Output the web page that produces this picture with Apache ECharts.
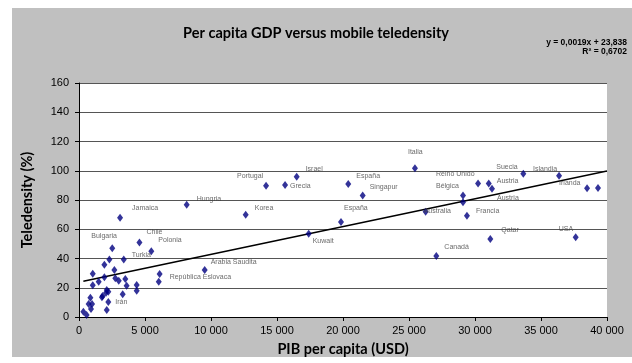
<!DOCTYPE html>
<html>
<head>
<meta charset="utf-8">
<script src="https://cdn.jsdelivr.net/npm/echarts@6/dist/echarts.min.js"></script>
<style>
  html, body { margin: 0; padding: 0; background: #ffffff; }
  #chart { width: 632px; height: 363px; }
</style>
</head>
<body>
<div id="chart"></div>
<script>
// GDP per capita (USD) and mobile teledensity (%) per country
const gdp = [
  25450, 14170, 8160, 3110, 12630, 2520, 4580, 5480, 3390, 9520,
  6110, 6040, 2220, 16490, 15610, 20400, 21490, 19850, 17400, 33660,
  36370, 30230, 31040, 31290, 29090, 29090, 38490, 39320, 26260, 29390,
  31160, 37630, 27070,
  2300, 1920, 1040, 2680, 1490, 1920, 1040, 2750, 3010, 3510,
  3610, 4370, 4370, 2100, 2220, 2050, 1790, 1740, 3310, 860,
  730, 990, 910, 2100, 330, 580
];
const teledensity = [
  101.7, 89.8, 76.8, 67.9, 70.0, 47.0, 51.0, 44.9, 39.4, 32.1,
  29.4, 24.1, 10.3, 95.9, 90.3, 91.0, 83.0, 65.0, 57.0, 98.0,
  96.6, 91.2, 91.2, 87.7, 83.0, 78.4, 88.0, 88.2, 72.0, 69.3,
  53.3, 54.5, 41.7,
  39.4, 35.8, 29.6, 32.1, 24.1, 27.1, 21.7, 26.5, 24.8, 26.0,
  21.4, 21.9, 18.0, 18.5, 17.3, 16.6, 14.4, 13.5, 15.5, 13.2,
  8.9, 8.9, 5.5, 4.8, 3.6, 1.4
];
const countries = [
  'Italia', 'Portugal', 'Hungria', 'Jamaica', 'Korea', 'Bulgaria', 'Chile', 'Polonia', 'Turkia', 'Arabia Saudita',
  'República Eslovaca', '', 'Irán', 'Israel', 'Grecia', 'España', 'Singapur', 'España', 'Kuwait', 'Suecia',
  'Islandia', 'Reino Unido', 'Austria', 'Austria', 'Bélgica', '', 'Irlanda', '', 'Australia', 'Francia',
  'Qatar', 'USA', 'Canadá'
];
const xTicks = [0, 5000, 10000, 15000, 20000, 25000, 30000, 35000, 40000];
const yTicks = [0, 20, 40, 60, 80, 100, 120, 140, 160];

// Linear trend reported on the chart
const trendSlope = 0.0019;
const trendIntercept = 23.838;
const trendLines = ['y = 0,0019x + 23,838', 'R² = 0,6702'];

// Label placement (pixel offset of the text's left/middle from the marker centre)
const labelOffsets = {
  0: [-7, -16], 1: [-29, -10], 2: [10, -6], 3: [12, -10], 4: [9, -7],
  5: [-21, -12], 6: [7, -10], 7: [7, -11], 8: [8, -4], 9: [6, -8],
  10: [10, 3], 12: [7, 0], 13: [9, -8], 14: [5, 1], 15: [8, -8],
  16: [7, -9], 17: [3, -14], 18: [4, 7], 19: [-27, -7], 20: [-26, -7],
  21: [-42, -10], 22: [8, -3], 23: [5, 9], 24: [-27, -10], 26: [-28, -5],
  28: [-2, -1], 29: [9, -5], 30: [11, -9], 31: [-17, -8], 32: [8, -9]
};

const points = gdp.map((x, i) => {
  const name = countries[i] || '';
  const p = { value: [x, teledensity[i]], name: name };
  if (name) {
    p.label = { show: true, formatter: name, offset: labelOffsets[i] || [6, -8] };
  }
  return p;
});

const xMin = Math.min.apply(null, gdp);
const xMax = xTicks[xTicks.length - 1];
const trend = [
  [xMin, trendSlope * xMin + trendIntercept],
  [xMax, trendSlope * xMax + trendIntercept]
];

const fmtThousands = v => String(v).replace(/\B(?=(\d{3})+(?!\d))/g, ' ');
const headFont = { fontFamily: 'Lato', fontWeight: 'bold', fontSize: 14.5, color: '#000' };

const chart = echarts.init(document.getElementById('chart'), null, { renderer: 'canvas' });
chart.setOption({
  backgroundColor: 'transparent',
  animation: false,
  title: [{
    text: 'Per capita GDP versus mobile teledensity',
    left: 'center', top: 21,
    textStyle: headFont
  }],
  grid: { left: 79, top: 83, width: 528, height: 234 },
  xAxis: {
    type: 'value', min: xTicks[0], max: xMax, interval: xTicks[1] - xTicks[0],
    name: 'PIB per capita (USD)', nameLocation: 'middle', nameGap: 25,
    nameTextStyle: headFont,
    axisLine: { show: true, onZero: false, lineStyle: { color: '#000', width: 1 } },
    axisTick: { show: true, inside: false, length: 4, lineStyle: { color: '#000' } },
    axisLabel: { margin: 8, fontFamily: 'Liberation Sans', fontSize: 11, color: '#000', formatter: fmtThousands },
    splitLine: { show: false }
  },
  yAxis: {
    type: 'value', min: yTicks[0], max: yTicks[yTicks.length - 1], interval: yTicks[1] - yTicks[0],
    name: 'Teledensity (%)', nameLocation: 'middle', nameGap: 44, nameRotate: 90,
    nameTextStyle: headFont,
    axisLine: { show: true, onZero: false, lineStyle: { color: '#000', width: 1 } },
    axisTick: { show: true, inside: false, length: 4, lineStyle: { color: '#000' } },
    axisLabel: { margin: 10, fontFamily: 'Liberation Sans', fontSize: 11, color: '#000' },
    splitLine: { show: true, lineStyle: { color: '#555', width: 1 } }
  },
  series: [{
    type: 'scatter',
    data: points,
    symbol: 'diamond',
    symbolSize: [6, 8],
    itemStyle: { color: '#000080' },
    label: {
      show: false, position: 'inside', align: 'left', verticalAlign: 'middle',
      fontFamily: 'Liberation Sans', fontSize: 7, color: '#444'
    },
    z: 3
  }, {
    type: 'line',
    data: trend,
    symbol: 'none',
    lineStyle: { color: '#000', width: 1.5 },
    silent: true,
    z: 2
  }]
});

// Chart-area fill, white plot background and the trend equation
const gridRect = chart.getModel().getComponent('grid').coordinateSystem.getRect();
chart.setOption({
  graphic: [{
    type: 'rect', z: -10, silent: true,
    shape: { x: 12, y: 8, width: 620, height: 349 },
    style: { fill: '#c0c0c0' }
  }, {
    type: 'rect', z: -9, silent: true,
    shape: { x: gridRect.x, y: gridRect.y, width: gridRect.width, height: gridRect.height },
    style: { fill: '#ffffff' }
  }].concat(trendLines.map((t, i) => ({
    type: 'text', right: 5, top: 38 + i * 9, silent: true,
    style: { text: t, fill: '#000', font: 'bold 8.5px "Liberation Sans"' }
  })))
});
</script>
</body>
</html>
